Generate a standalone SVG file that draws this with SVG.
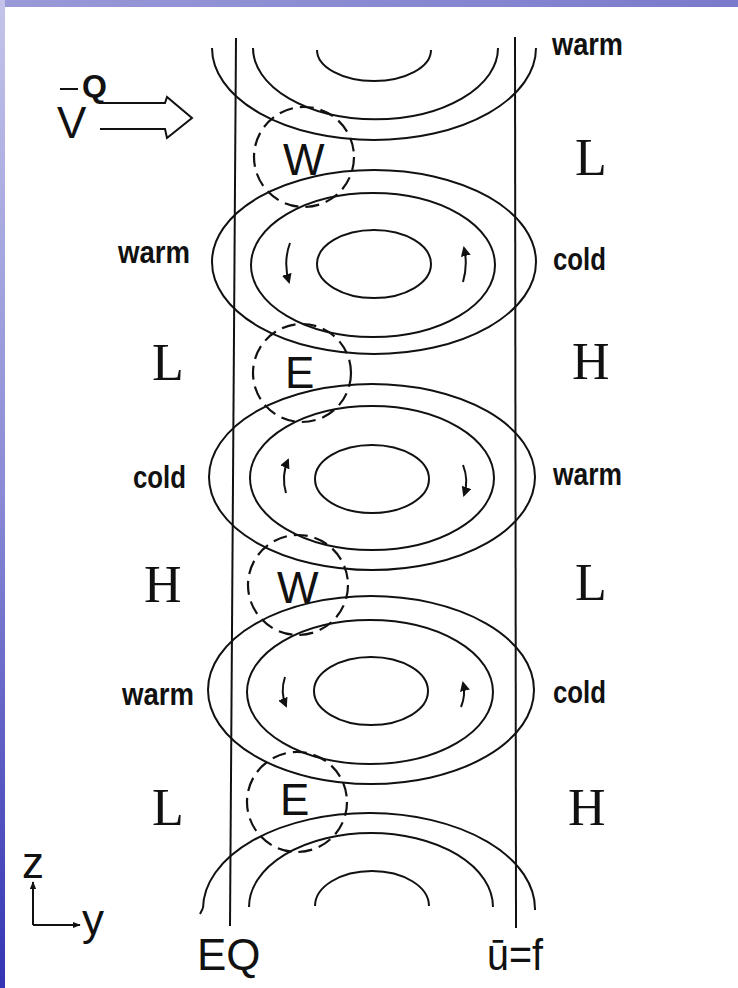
<svg xmlns="http://www.w3.org/2000/svg" width="738" height="988" viewBox="0 0 738 988">
<defs>
<linearGradient id="lg" x1="0" y1="0" x2="0" y2="1">
<stop offset="0" stop-color="#c4c4ea"/>
<stop offset="0.5" stop-color="#8a8ad6"/>
<stop offset="1" stop-color="#3434b4"/>
</linearGradient>
<linearGradient id="tg" x1="0" y1="0" x2="1" y2="0">
<stop offset="0" stop-color="#9a9ad8"/>
<stop offset="1" stop-color="#7a7acc"/>
</linearGradient>
<marker id="ah" viewBox="0 0 10 10" refX="8" refY="5" markerWidth="5" markerHeight="5" orient="auto" markerUnits="strokeWidth">
<path d="M0,0 L10,5 L0,10 z" fill="#111"/>
</marker>
<marker id="ax" viewBox="0 0 10 10" refX="9" refY="5" markerWidth="4" markerHeight="4" orient="auto" markerUnits="strokeWidth">
<path d="M0,1 L10,5 L0,9 z" fill="#111"/>
</marker>
</defs>
<style>
.ln{fill:none;stroke:#111;stroke-width:2}
.dash{fill:none;stroke:#111;stroke-width:2.2;stroke-dasharray:14 7}
.lab{font-family:"Liberation Sans",Arial,sans-serif;font-weight:bold;font-size:32px;fill:#111}
.hl{font-family:"Liberation Serif","Times New Roman",serif;font-size:52px;fill:#111}
.we{font-family:"Liberation Sans",Arial,sans-serif;font-size:44px;fill:#111}
</style>
<rect x="0" y="0" width="738" height="988" fill="#ffffff"/>
<rect x="0" y="0" width="738" height="7" fill="url(#tg)"/>
<rect x="0" y="0" width="5" height="988" fill="url(#lg)"/>

<g id="boundaries">
<line class="ln" x1="236" y1="38" x2="230" y2="926"/>
<line class="ln" x1="515" y1="37" x2="516" y2="928"/>
</g>

<g id="cell-top">
<path class="ln" d="M212,48 A162,92 0 0 0 536,48"/>
<path class="ln" d="M253,48 A122,71 0 0 0 498,48"/>
<path class="ln" d="M317,50 A57,31 0 0 0 431,50"/>
</g>
<g id="cell1">
<ellipse class="ln" cx="374" cy="262" rx="162" ry="92"/>
<ellipse class="ln" cx="373" cy="265" rx="122" ry="72"/>
<ellipse class="ln" cx="374" cy="264" rx="57" ry="34"/>
</g>
<g id="cell2">
<ellipse class="ln" cx="372" cy="477" rx="163" ry="93"/>
<ellipse class="ln" cx="372" cy="478" rx="122" ry="72"/>
<ellipse class="ln" cx="372" cy="479" rx="57" ry="34"/>
</g>
<g id="cell3">
<ellipse class="ln" cx="371" cy="690" rx="163" ry="94"/>
<ellipse class="ln" cx="370" cy="692" rx="123" ry="72"/>
<ellipse class="ln" cx="371" cy="691" rx="57" ry="34"/>
</g>
<g id="cell-bottom">
<path class="ln" d="M203,908 A166,96 0 0 1 535,910"/>
<path class="ln" d="M203,908 L200,914"/>
<path class="ln" d="M249,907 A122,74 0 0 1 493,907"/>
<path class="ln" d="M315,906 A57,35 0 0 1 429,906"/>
</g>

<g id="w1"><circle class="dash" cx="304" cy="157" r="50"/><text class="we" x="283" y="175">W</text></g>
<g id="e1"><circle class="dash" cx="302" cy="373" r="49"/><text class="we" x="285" y="388">E</text></g>
<g id="w2"><circle class="dash" cx="298" cy="585" r="50"/><text class="we" x="277" y="603">W</text></g>
<g id="e2"><circle class="dash" cx="297" cy="802" r="50"/><text class="we" x="280" y="815">E</text></g>

<g id="connectors">
<path class="ln" d="M290,243 Q283,262 289,282" marker-end="url(#ah)"/>
<path class="ln" d="M463,282 Q468,265 464,248" marker-end="url(#ah)"/>
<path class="ln" d="M286,493 Q281,476 288,460" marker-end="url(#ah)"/>
<path class="ln" d="M463,465 Q469,480 464,495" marker-end="url(#ah)"/>
<path class="ln" d="M285,677 Q280,692 286,706" marker-end="url(#ah)"/>
<path class="ln" d="M461,707 Q466,695 463,683" marker-end="url(#ah)"/>
<path class="ln" stroke-width="2.5" d="M100,103 L165,103 L167,97 L192,118 L167,138 L165,129 L100,129"/>
</g>

<g id="vq">
<text class="we" x="57" y="138" font-size="46">V</text>
<line class="ln" stroke-width="2.5" x1="60" y1="89" x2="78" y2="89"/>
<text class="lab" x="82" y="97" font-size="24">Q</text>
</g>

<g id="labels-right">
<text class="lab" x="552" y="55" textLength="71" lengthAdjust="spacingAndGlyphs">warm</text>
<text class="hl" x="575" y="175">L</text>
<text class="lab" x="553" y="270" textLength="53" lengthAdjust="spacingAndGlyphs">cold</text>
<text class="hl" x="572" y="379">H</text>
<text class="lab" x="553" y="485" textLength="69" lengthAdjust="spacingAndGlyphs">warm</text>
<text class="hl" x="575" y="600">L</text>
<text class="lab" x="553" y="703" textLength="53" lengthAdjust="spacingAndGlyphs">cold</text>
<text class="hl" x="568" y="825">H</text>
</g>
<g id="labels-left">
<text class="lab" x="118" y="263" textLength="72" lengthAdjust="spacingAndGlyphs">warm</text>
<text class="hl" x="152" y="380">L</text>
<text class="lab" x="133" y="488" textLength="53" lengthAdjust="spacingAndGlyphs">cold</text>
<text class="hl" x="144" y="602">H</text>
<text class="lab" x="122" y="705" textLength="72" lengthAdjust="spacingAndGlyphs">warm</text>
<text class="hl" x="152" y="825">L</text>
</g>

<g id="axes">
<text class="we" x="22" y="878" font-size="40">z</text>
<path class="ln" d="M33,925 L33,882" marker-end="url(#ax)"/>
<path class="ln" d="M33,925 L80,925" marker-end="url(#ax)"/>
<text class="we" x="82" y="935" font-size="44">y</text>
</g>
<g id="bottom-labels">
<text class="we" x="197" y="970">EQ</text>
<text class="we" x="487" y="970" textLength="56" lengthAdjust="spacingAndGlyphs">ū=f</text>
</g>
</svg>
